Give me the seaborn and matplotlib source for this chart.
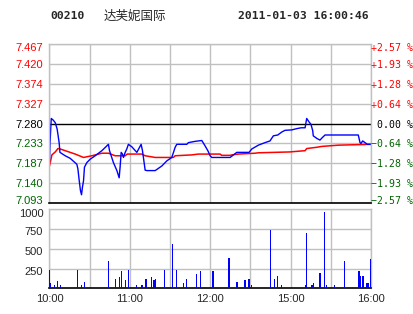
import matplotlib
matplotlib.use("Agg")
import matplotlib.pyplot as plt
import matplotlib.transforms as mtransforms
import seaborn as sns

# ---------------- data ----------------
stock_code = "00210"
stock_name = "达芙妮国际"
stamp = "2011-01-03 16:00:46"
prev_close = 7.280

price_levels = [7.467, 7.420, 7.374, 7.327, 7.280, 7.233, 7.187, 7.140, 7.093]
price_labels = ["7.467", "7.420", "7.374", "7.327", "7.280", "7.233", "7.187", "7.140", "7.093"]
pct_labels = ["+2.57 %", "+1.93 %", "+1.28 %", "+0.64 %", " 0.00 %",
              "\u22120.64 %", "\u22121.28 %", "\u22121.93 %", "\u22122.57 %"]

vol_levels = [250, 500, 750, 1000]
vol_labels = ["250", "500", "750", "1000"]

time_ticks = [0, 60, 120, 180, 240]
time_labels = ["10:00", "11:00", "12:00", "15:00", "16:00"]
grid_minutes = [0, 30, 60, 90, 120, 150, 180, 210, 240]

# price line (minutes since open, price)
price_min = [0, 0.4, 1.3, 2.8, 4.3, 5.7, 7.2, 7.8, 11.7, 15.4, 20.4, 21.2, 22.2, 23.1,
             23.9, 24.6, 25.4, 26.1, 27.9, 30.4, 34.1, 39.1, 44.0, 44.8, 47.7, 50.3,
             52.0, 52.7, 53.5, 54.5, 55.2, 56.5, 57.7, 58.9, 61.5, 65.2, 68.4, 69.4,
             70.1, 71.4, 72.7, 78.9, 83.9, 87.6, 91.3, 93.8, 95.0, 102.5, 103.7, 108.7,
             113.7, 116.2, 118.2, 119.9, 121.2, 134.8, 137.3, 139.8, 149.0, 151.0, 155.9,
             160.9, 164.6, 167.1, 170.4, 173.4, 175.8, 180.8, 184.6, 187.8, 190.8, 192.0,
             193.7, 195.2, 196.5, 196.9, 199.5, 201.9, 203.7, 205.7, 230.5, 231.8, 232.5,
             233.8, 235.5, 237.2, 240]
price_val = [7.192, 7.235, 7.292, 7.288, 7.282, 7.267, 7.235, 7.212, 7.204, 7.198, 7.184,
             7.173, 7.145, 7.122, 7.112, 7.130, 7.145, 7.177, 7.188, 7.196, 7.204, 7.216,
             7.231, 7.216, 7.188, 7.169, 7.152, 7.177, 7.212, 7.208, 7.200, 7.212, 7.220,
             7.231, 7.225, 7.212, 7.231, 7.216, 7.200, 7.170, 7.169, 7.169, 7.180, 7.192,
             7.200, 7.224, 7.231, 7.231, 7.235, 7.238, 7.240, 7.227, 7.216, 7.204, 7.200,
             7.200, 7.206, 7.212, 7.212, 7.220, 7.229, 7.235, 7.239, 7.251, 7.253, 7.260,
             7.264, 7.265, 7.268, 7.270, 7.270, 7.292, 7.284, 7.278, 7.263, 7.251, 7.245,
             7.241, 7.247, 7.253, 7.253, 7.235, 7.233, 7.239, 7.235, 7.231, 7.231]

# average price line
avg_min = [0, 1.8, 4.3, 6.3, 8.0, 11.7, 19.2, 25.4, 31.6, 39.1, 44.0, 49.0, 56.5, 58.0,
           68.9, 71.4, 78.9, 92.5, 93.8, 106.2, 111.2, 127.3, 128.6, 134.8, 136.1, 141.0,
           153.5, 155.9, 179.3, 190.8, 192.0, 199.5, 203.2, 215.6, 240]
avg_val = [7.180, 7.206, 7.213, 7.221, 7.220, 7.216, 7.208, 7.200, 7.204, 7.210, 7.210,
           7.204, 7.204, 7.208, 7.208, 7.204, 7.200, 7.200, 7.204, 7.206, 7.208, 7.208,
           7.205, 7.205, 7.206, 7.208, 7.210, 7.211, 7.213, 7.216, 7.221, 7.224, 7.226,
           7.229, 7.231]

# volume bars
vol_min = [0, 1, 4, 6, 8, 21, 24, 26, 44, 49, 52, 54, 57, 59, 65, 69, 72, 76, 78, 79, 86,
           92, 95, 100, 102, 110, 113, 122, 134, 140, 146, 149, 151, 165, 168, 170, 173,
           191, 192, 196, 197, 202, 205, 207, 213, 220, 231, 232, 234, 237, 238, 240]
vol_val = [228, 72, 38, 97, 38, 228, 38, 76, 342, 114, 139, 215, 101, 228, 38, 38, 114,
           139, 105, 114, 228, 557, 228, 63, 114, 177, 215, 215, 380, 76, 101, 114, 38,
           734, 114, 152, 38, 38, 696, 38, 63, 190, 966, 38, 38, 342, 215, 152, 152, 63,
           63, 367]

# ---------------- style ----------------
sns.set_style("white")
plt.rcParams["font.family"] = ["Liberation Sans", "DejaVu Sans"]

RED = "#FF0000"
GREEN = "#006400"
BLUE = "#0000FF"
GRID = "#C0C0C0"

W, H = 414, 314
fig = plt.figure(figsize=(W / 100, H / 100), dpi=100)
fig.patch.set_facecolor("white")

def fx(px):
    return px / W

def fy(py):
    return 1 - py / H

L, R = 49.5, 371.0
axp = fig.add_axes([fx(L), fy(202.8), fx(R - L), fy(44.3) - fy(202.8)])
axv = fig.add_axes([fx(L), fy(288.3), fx(R - L), fy(209.3) - fy(288.3)])

# ---------------- price panel ----------------
sns.lineplot(x=avg_min, y=avg_val, ax=axp, color=RED, linewidth=1.1,
             estimator=None, sort=False)
sns.lineplot(x=price_min, y=price_val, ax=axp, color=BLUE, linewidth=1.0,
             estimator=None, sort=False)
axp.set_xlim(0, 240)
axp.set_ylim(price_levels[-1], price_levels[0])
for m in grid_minutes:
    axp.axvline(m, color=GRID, lw=1, zorder=0)
for lv in price_levels:
    if abs(lv - prev_close) < 1e-9:
        axp.axhline(lv, color="black", lw=1, zorder=1)
    else:
        axp.axhline(lv, color=GRID, lw=1, zorder=0)
axp.set_xticks([])
axp.set_xlabel("")
axp.set_ylabel("")
axp.set_yticks(price_levels)
axp.set_yticklabels(price_labels, fontsize=8)
axp.tick_params(axis="y", length=0, pad=4.5)
for lbl, lv in zip(axp.get_yticklabels(), price_levels):
    if lv > prev_close + 1e-9:
        lbl.set_color(RED)
    elif lv < prev_close - 1e-9:
        lbl.set_color(GREEN)
    else:
        lbl.set_color("black")
for side in ["left", "right", "top"]:
    axp.spines[side].set_color(GRID)
    axp.spines[side].set_linewidth(1)
axp.spines["bottom"].set_color("black")
axp.spines["bottom"].set_linewidth(1.2)

axr = axp.twinx()
axr.set_ylim(price_levels[-1], price_levels[0])
axr.set_yticks(price_levels)
axr.set_yticklabels(pct_labels, fontsize=7.1, family="DejaVu Sans Mono")
axr.tick_params(axis="y", length=0, pad=0.3)
for lbl, lv in zip(axr.get_yticklabels(), price_levels):
    if lv > prev_close + 1e-9:
        lbl.set_color(RED)
    elif lv < prev_close - 1e-9:
        lbl.set_color(GREEN)
    else:
        lbl.set_color("black")
for s in axr.spines.values():
    s.set_visible(False)

# nudge first/last labels inside like the original
dn = mtransforms.ScaledTranslation(0, -3 / 100, fig.dpi_scale_trans)
up = mtransforms.ScaledTranslation(0, 2.5 / 100, fig.dpi_scale_trans)
for a in (axp, axr):
    labs = a.get_yticklabels()
    labs[0].set_transform(labs[0].get_transform() + dn)
    labs[-1].set_transform(labs[-1].get_transform() + up)

# ---------------- volume panel ----------------
sns.barplot(x=vol_min, y=vol_val, ax=axv, native_scale=True, color=BLUE,
            saturation=1, width=0.9, linewidth=0, errorbar=None, zorder=3)
axv.set_xlim(0, 240)
axv.set_ylim(0, 1000)
for m in grid_minutes:
    axv.axvline(m, color=GRID, lw=1, zorder=0)
for lv in vol_levels:
    axv.axhline(lv, color=GRID, lw=1, zorder=0)
axv.set_yticks(vol_levels)
axv.set_yticklabels(vol_labels, fontsize=8)
axv.tick_params(axis="y", length=0, pad=4.5)
vdn = mtransforms.ScaledTranslation(0, -2 / 100, fig.dpi_scale_trans)
for lbl in axv.get_yticklabels():
    lbl.set_transform(lbl.get_transform() + vdn)
vlabs = axv.get_yticklabels()
vlabs[-1].set_transform(vlabs[-1].get_transform() + mtransforms.ScaledTranslation(0, -1.5 / 100, fig.dpi_scale_trans))
axv.set_xticks(time_ticks)
axv.set_xticklabels(time_labels, fontsize=8)
axv.tick_params(axis="x", length=0, pad=4)
axv.set_xlabel("")
axv.set_ylabel("")
for side in ["left", "right", "top"]:
    axv.spines[side].set_color(GRID)
    axv.spines[side].set_linewidth(1)
axv.spines["bottom"].set_color("black")
axv.spines["bottom"].set_linewidth(1.2)

# ---------------- header ----------------
fig.text(fx(50), fy(16), stock_code, fontsize=8.2, fontweight="bold",
         family="DejaVu Sans Mono", va="center", ha="left")
fig.text(fx(104), fy(16), stock_name, fontsize=9, family=["Noto Sans CJK SC", "DejaVu Sans"],
         va="center", ha="left")
fig.text(fx(238), fy(16), stamp, fontsize=8.2, fontweight="bold",
         family="DejaVu Sans Mono", va="center", ha="left")

fig.savefig("out.png", dpi=100, facecolor="white")
